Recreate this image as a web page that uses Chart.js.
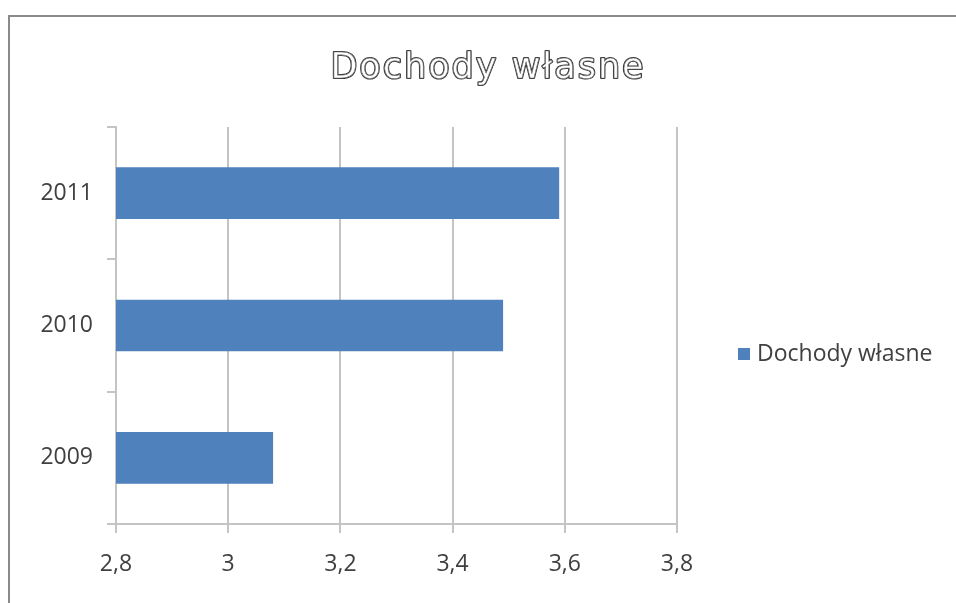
<!DOCTYPE html>
<html>
<head>
<meta charset="utf-8">
<script src="https://cdn.jsdelivr.net/npm/chart.js@4.4.1/dist/chart.umd.min.js"></script>
<style>
    body { margin: 0; background: #fff; }
    canvas { display: block; }
</style>
</head>
<body>
<canvas id="mainChart" width="956" height="603"></canvas>
<script>
// Own income per year
const years = ['2011', '2010', '2009'];
const incomeValues = [3.59, 3.49, 3.08];
const xTicks = [2.8, 3, 3.2, 3.4, 3.6, 3.8];
const seriesName = 'Dochody własne';
const chartTitle = 'Dochody własne';

const textColor = '#404040';
const gridColor = '#c4c4c4';

// Frame around the whole chart, title drawn with an outline, legend on the right
const decorPlugin = {
    id: 'decor',
    beforeDraw(chart) {
        const ctx = chart.ctx;
        ctx.save();
        ctx.strokeStyle = '#8a8a8a';
        ctx.lineWidth = 2;
        ctx.strokeRect(9, 16, 1000, 700);
        ctx.restore();
    },
    afterDraw(chart) {
        const ctx = chart.ctx;
        ctx.save();
        // title
        ctx.font = '35px "DejaVu Sans"';
        ctx.letterSpacing = '2px';
        ctx.textAlign = 'center';
        ctx.textBaseline = 'alphabetic';
        ctx.fillStyle = '#ffffff';
        ctx.strokeStyle = '#333333';
        ctx.lineWidth = 2.2;
        ctx.lineJoin = 'round';
        ctx.strokeText(chartTitle, 488, 78);
        ctx.fillText(chartTitle, 488, 78);
        ctx.lineWidth = 0.6;
        ctx.strokeStyle = '#777777';
        ctx.strokeText(chartTitle, 488, 78);
        ctx.letterSpacing = '0px';

        // legend
        const ds = chart.data.datasets[0];
        ctx.fillStyle = ds.backgroundColor;
        ctx.fillRect(738, 348, 12, 12);
        ctx.font = '23px "Open Sans"';
        ctx.textAlign = 'left';
        ctx.textBaseline = 'middle';
        ctx.fillStyle = textColor;
        ctx.fillText(ds.label, 757, 354);
        ctx.restore();
    }
};

const ctx = document.getElementById('mainChart').getContext('2d');
new Chart(ctx, {
    type: 'bar',
    data: {
        labels: years,
        datasets: [{
            label: seriesName,
            data: incomeValues,
            backgroundColor: '#4f81bd',
            borderWidth: 0,
            categoryPercentage: 1,
            barPercentage: 0.39
        }]
    },
    options: {
        indexAxis: 'y',
        responsive: false,
        animation: false,
        layout: {
            padding: { top: 127, left: 0, right: 279, bottom: 0 }
        },
        plugins: {
            legend: { display: false },
            title: { display: false },
            tooltip: { enabled: false }
        },
        scales: {
            x: {
                min: 2.8,
                max: 3.8,
                afterFit: (scale) => { scale.height = 79; },
                afterBuildTicks: (scale) => {
                    scale.ticks = xTicks.map(v => ({ value: v }));
                },
                border: { display: true, color: gridColor, width: 2 },
                grid: {
                    color: gridColor,
                    lineWidth: 2,
                    tickLength: 9,
                    drawTicks: true
                },
                ticks: {
                    padding: 18,
                    color: textColor,
                    font: { family: 'Open Sans', size: 23 },
                    callback: (value) => String(value).replace('.', ',')
                }
            },
            y: {
                afterFit: (scale) => { scale.width = 116; },
                border: { display: true, color: gridColor, width: 2 },
                grid: {
                    color: gridColor,
                    lineWidth: 2,
                    offset: true,
                    drawOnChartArea: false,
                    drawTicks: true,
                    tickLength: 9
                },
                ticks: {
                    padding: 14,
                    color: textColor,
                    font: { family: 'Open Sans', size: 23 }
                }
            }
        }
    },
    plugins: [decorPlugin]
});
</script>
</body>
</html>
